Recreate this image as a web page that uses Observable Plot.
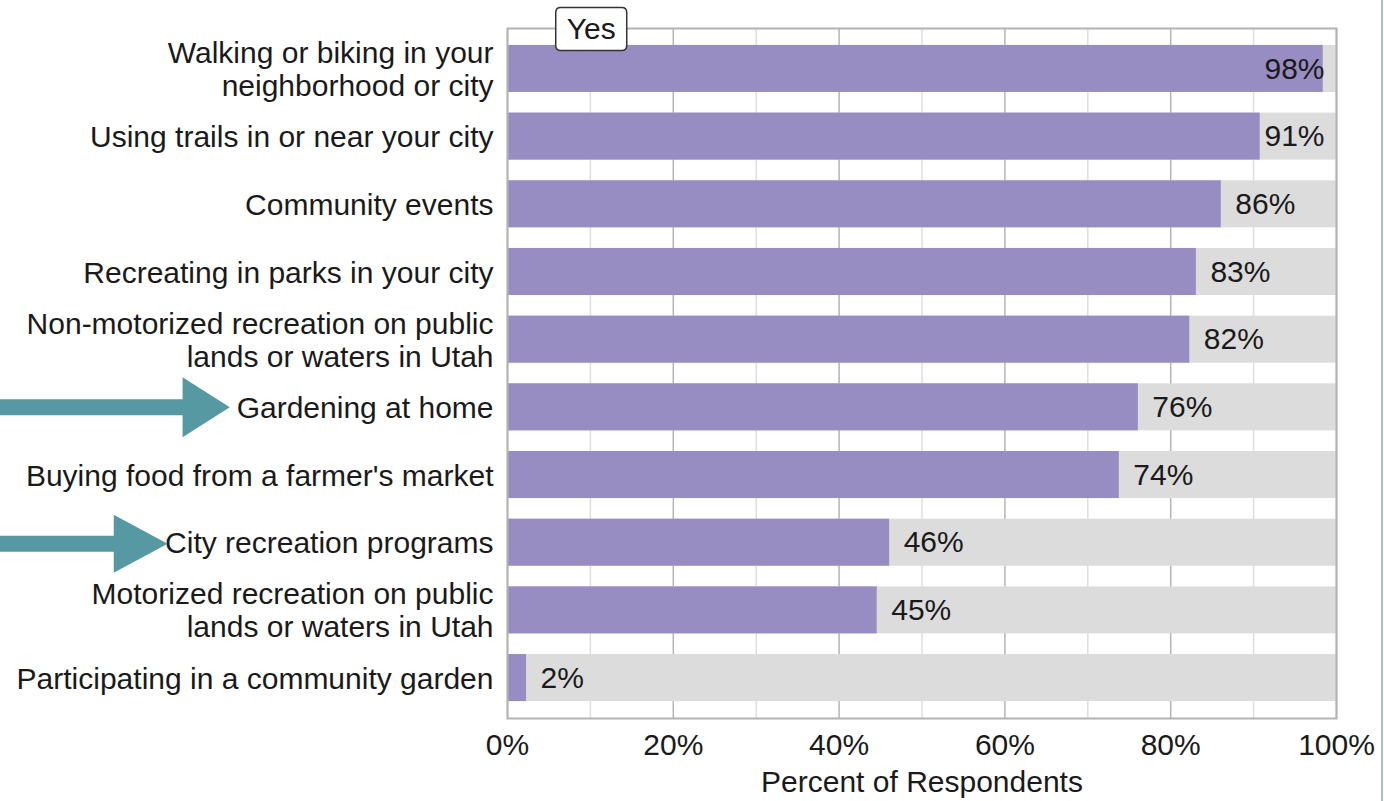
<!DOCTYPE html>
<html>
<head>
<meta charset="utf-8">
<script src="https://cdn.jsdelivr.net/npm/d3@7"></script>
<script src="https://cdn.jsdelivr.net/npm/@observablehq/plot@0.6"></script>
<style>
  html, body { margin: 0; padding: 0; background: #fff; }
  #wrap { position: relative; width: 1384px; height: 801px; overflow: hidden; }
  #edge { position: absolute; left: 1381px; top: 0; width: 2px; height: 801px; background: #9cc3cf; }
</style>
</head>
<body>
<div id="wrap"><div id="edge"></div></div>
<script>
// ---- data ----
const categories = [
  "Walking or biking in your\nneighborhood or city",
  "Using trails in or near your city",
  "Community events",
  "Recreating in parks in your city",
  "Non-motorized recreation on public\nlands or waters in Utah",
  "Gardening at home",
  "Buying food from a farmer's market",
  "City recreation programs",
  "Motorized recreation on public\nlands or waters in Utah",
  "Participating in a community garden"
];
const yesValues = [98.4, 90.8, 86.1, 83.1, 82.3, 76.1, 73.8, 46.1, 44.6, 2.3];
const majorTicks = [0, 20, 40, 60, 80, 100];
const minorTicks = [10, 30, 50, 70, 90];
const seriesName = "Yes";
const axisTitle = "Percent of Respondents";
const highlighted = ["Gardening at home", "City recreation programs"];

const data = categories.map((c, i) => ({label: c, value: yesValues[i]}));

// annotation geometry (x-scale units, left of the frame)
const arrowTail = -65;
const arrowBase = [-39.2, -47.5];
const arrowTip = [-33.5, -41.0];

const textColor = "#1a1a1a";
const purple = "#988dc2";
const grayBar = "#dcdcdc";
const teal = "#5699a3";

// right-pointing triangle head, centred on the dot position
function makeHead(len, h) {
  return {
    draw(ctx) {
      ctx.moveTo(-len / 2, -h / 2);
      ctx.lineTo(len / 2, 0);
      ctx.lineTo(-len / 2, h / 2);
      ctx.closePath();
    }
  };
}
// rounded box for series key
const boxSymbol = {
  draw(ctx) {
    const w = 71, h = 43, r = 5;
    const x0 = -w / 2, x1 = w / 2, y0 = -h / 2, y1 = h / 2;
    ctx.moveTo(x0 + r, y0);
    ctx.lineTo(x1 - r, y0);
    ctx.quadraticCurveTo(x1, y0, x1, y0 + r);
    ctx.lineTo(x1, y1 - r);
    ctx.quadraticCurveTo(x1, y1, x1 - r, y1);
    ctx.lineTo(x0 + r, y1);
    ctx.quadraticCurveTo(x0, y1, x0, y1 - r);
    ctx.lineTo(x0, y0 + r);
    ctx.quadraticCurveTo(x0, y0, x0 + r, y0);
    ctx.closePath();
  }
};

const arrowMarks = highlighted.flatMap((l, i) => {
  const a = [{label: l, base: arrowBase[i], tip: arrowTip[i]}];
  const headLen = (arrowTip[i] - arrowBase[i]) * 8.29;
  return [
    Plot.ruleY(a, {y: "label", x1: () => arrowTail, x2: d => d.base + 0.3, stroke: teal, strokeWidth: 16, dy: i}),
    Plot.dot(a, {y: "label", x: d => (d.base + d.tip) / 2, symbol: makeHead(headLen, i === 0 ? 60 : 58), r: 10, fill: teal, stroke: "none", dy: i})
  ];
});

const chart = Plot.plot({
  width: 1384,
  height: 801,
  marginTop: 28,
  marginBottom: 83,
  marginLeft: 507,
  marginRight: 48,
  style: {fontFamily: "Arial, 'Liberation Sans', sans-serif", fontSize: "30px", color: textColor, overflow: "visible"},
  x: {domain: [0, 100]},
  y: {domain: categories, paddingInner: 0.305, paddingOuter: 0.25, round: false},
  marks: [
    Plot.ruleX(minorTicks, {stroke: "#dedede", strokeWidth: 1.5}),
    Plot.ruleX(majorTicks, {stroke: "#b4b4b4", strokeWidth: 1.5}),
    Plot.barX(data, {x1: 0, x2: 100, y: "label", fill: grayBar}),
    Plot.barX(data, {x1: 0, x2: "value", y: "label", fill: purple}),
    Plot.frame({stroke: "#b3b3b3", strokeWidth: 2}),
    Plot.text(data.filter(d => d.value > 88), {
      x: () => 100, y: "label", text: d => Math.round(d.value) + "%",
      textAnchor: "end", dx: -12, fill: textColor
    }),
    Plot.text(data.filter(d => d.value <= 88), {
      x: "value", y: "label", text: d => Math.round(d.value) + "%",
      textAnchor: "start", dx: 14, fill: textColor
    }),
    Plot.axisY({tickSize: 0, tickPadding: 14, label: null, lineHeight: 1.1, fill: textColor}),
    Plot.axisX({ticks: majorTicks, tickFormat: d => d + "%", tickSize: 0, tickPadding: 15, label: null, fill: textColor}),
    Plot.text([axisTitle], {frameAnchor: "bottom", dy: 64, lineAnchor: "middle", fill: textColor}),
    ...arrowMarks,
    // series key
    Plot.dot([seriesName], {x: () => 10.1, frameAnchor: "top", symbol: boxSymbol, r: 10, fill: "white", stroke: "#333", strokeWidth: 1.5, dy: 0.5}),
    Plot.text([seriesName], {x: () => 10.1, frameAnchor: "top", text: d => d, dy: 1, fill: textColor, lineAnchor: "middle"})
  ]
});
document.getElementById("wrap").prepend(chart);
</script>
</body>
</html>
